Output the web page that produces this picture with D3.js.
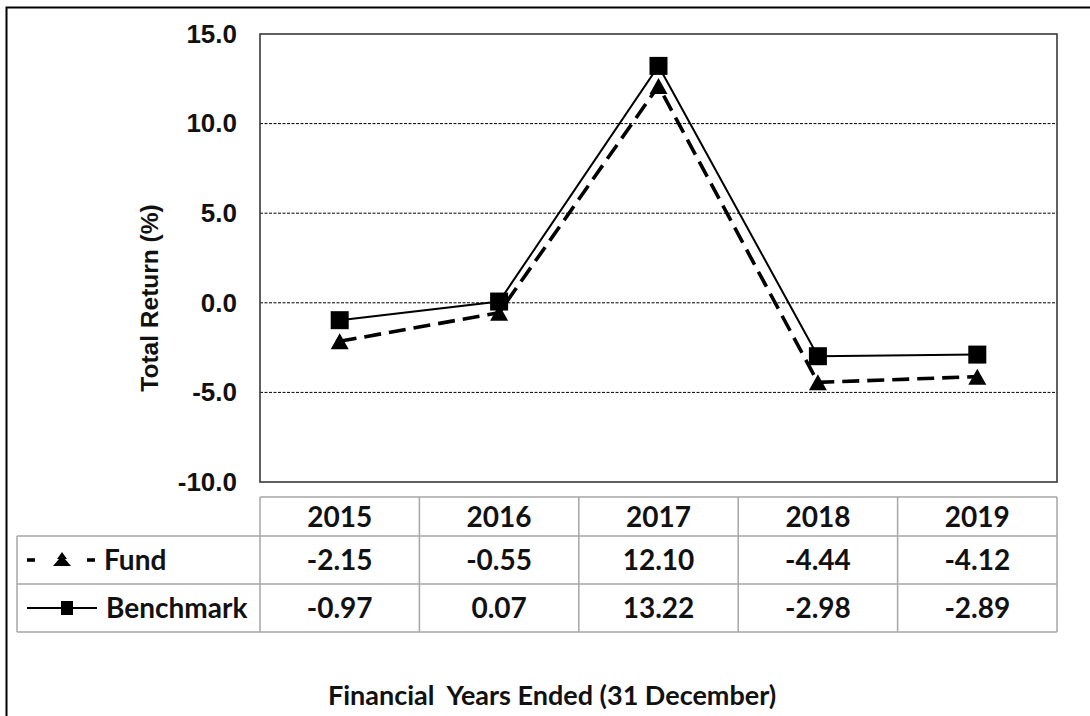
<!DOCTYPE html>
<html>
<head>
<meta charset="utf-8">
<script src="https://cdn.jsdelivr.net/npm/d3@7"></script>
<style>
html,body{margin:0;padding:0;background:#fff;}
svg{display:block;}
</style>
</head>
<body>
<svg id="chart" width="1090" height="716"></svg>
<script>
const years = ["2015","2016","2017","2018","2019"];
const fund = [-2.15, -0.55, 12.10, -4.44, -4.12];
const benchmark = [-0.97, 0.07, 13.22, -2.98, -2.89];
const yTicks = [-10, -5, 0, 5, 10, 15];
const gridTicks = [-5, 0, 5, 10];
const seriesNames = ["Fund", "Benchmark"];
const xTitle = "Financial\u00a0 Years Ended (31 December)";
const yTitle = "Total Return (%)";

const hy = f => (d => f(d).replace("\u2212", "-"));
const f1 = hy(d3.format(".1f")), f2 = hy(d3.format(".2f"));

const svg = d3.select("#chart");
const L = 260, R = 1057, T = 34, B = 482;
const x = d3.scaleBand().domain(years).range([L, R]);
const y = d3.scaleLinear().domain([-10, 15]).range([B, T]);
const cx = d => x(d) + x.bandwidth() / 2;

// outer frame
svg.append("rect").attr("x", 6.5).attr("y", 7.5).attr("width", 1200).attr("height", 800)
  .attr("fill", "none").attr("stroke", "#000").attr("stroke-width", 2);

// gridlines
svg.append("g").selectAll("line").data(gridTicks).join("line")
  .attr("x1", L).attr("x2", R).attr("y1", d => y(d)).attr("y2", d => y(d))
  .attr("stroke", "#000").attr("stroke-width", 1).attr("stroke-dasharray", "3,1.5");

// plot border
svg.append("rect").attr("x", L).attr("y", T).attr("width", R - L).attr("height", B - T)
  .attr("fill", "none").attr("stroke", "#3a3a3a").attr("stroke-width", 1.6);

// y axis labels
const yAxis = d3.axisLeft(y).tickValues(yTicks).tickFormat(f1).tickSize(0).tickPadding(23);
const yg = svg.append("g").attr("transform", `translate(${L},0)`).call(yAxis);
yg.select(".domain").remove();
yg.selectAll("text").attr("font-family", "'Liberation Sans', Arial, sans-serif")
  .attr("font-weight", "bold").attr("font-size", 26).attr("fill", "#111");

// y title
svg.append("text").attr("transform", `translate(158,298) rotate(-90)`)
  .attr("text-anchor", "middle")
  .attr("font-family", "'Liberation Sans', Arial, sans-serif").attr("font-weight", "bold")
  .attr("font-size", 24.5).attr("fill", "#111").text(yTitle);

// lines
const lineGen = d3.line().x((d, i) => cx(years[i])).y(d => y(d));
svg.append("path").datum(fund).attr("d", lineGen).attr("fill", "none")
  .attr("stroke", "#000").attr("stroke-width", 3.6).attr("stroke-dasharray", "17,8");
svg.append("path").datum(benchmark).attr("d", lineGen).attr("fill", "none")
  .attr("stroke", "#000").attr("stroke-width", 2);

// markers
const tri = (px, py, w, h) => `M${px},${py - h / 2}L${px + w / 2},${py + h / 2}L${px - w / 2},${py + h / 2}Z`;
svg.append("g").selectAll("path").data(fund).join("path")
  .attr("d", (d, i) => tri(cx(years[i]), y(d), 18, 16)).attr("fill", "#000");
svg.append("g").selectAll("rect").data(benchmark).join("rect")
  .attr("x", (d, i) => cx(years[i]) - 9).attr("y", d => y(d) - 9)
  .attr("width", 18).attr("height", 18).attr("fill", "#000");

// table
const tFont = "Lato, 'Open Sans', sans-serif";
const rowY = [497, 536, 584, 632];
const tableLeft = 17;
const grid = svg.append("g").attr("stroke", "#a6a6a6").attr("stroke-width", 1.5).attr("fill", "none");
grid.append("line").attr("x1", L).attr("x2", R).attr("y1", rowY[0]).attr("y2", rowY[0]);
[1, 2, 3].forEach(k => grid.append("line").attr("x1", tableLeft).attr("x2", R).attr("y1", rowY[k]).attr("y2", rowY[k]));
grid.append("line").attr("x1", tableLeft).attr("x2", tableLeft).attr("y1", rowY[1]).attr("y2", rowY[3]);
const colEdges = years.map(d => x(d)).concat([R]);
grid.selectAll("line.v").data(colEdges).join("line").attr("class", "v")
  .attr("x1", d => d).attr("x2", d => d).attr("y1", rowY[0]).attr("y2", rowY[3]);

const cellText = (g, data, yc) => g.selectAll("text").data(data).join("text")
  .attr("x", (d, i) => cx(years[i])).attr("y", yc + 10)
  .attr("text-anchor", "middle").attr("font-family", tFont).attr("font-weight", "bold")
  .attr("font-size", 28).attr("fill", "#111").text(d => d);

cellText(svg.append("g"), years, (rowY[0] + rowY[1]) / 2);
cellText(svg.append("g"), fund.map(f2), (rowY[1] + rowY[2]) / 2);
cellText(svg.append("g"), benchmark.map(f2), (rowY[2] + rowY[3]) / 2);

// legend in table
const fy = (rowY[1] + rowY[2]) / 2, by = (rowY[2] + rowY[3]) / 2;
const lg = svg.append("g");
lg.append("line").attr("x1", 27).attr("x2", 35).attr("y1", fy).attr("y2", fy).attr("stroke", "#000").attr("stroke-width", 3.6);
lg.append("line").attr("x1", 87).attr("x2", 95).attr("y1", fy).attr("y2", fy).attr("stroke", "#000").attr("stroke-width", 3.6);
lg.append("path").attr("d", `M62,${fy - 8}L67,${fy - 1}L65,${fy - 1}L71,${fy + 6}L53,${fy + 6}L59,${fy - 1}L57,${fy - 1}Z`).attr("fill", "#000");
lg.append("line").attr("x1", 27).attr("x2", 97).attr("y1", by).attr("y2", by).attr("stroke", "#000").attr("stroke-width", 2);
lg.append("rect").attr("x", 61).attr("y", by - 7).attr("width", 12).attr("height", 14).attr("fill", "#000");
lg.append("text").attr("x", 104).attr("y", fy + 10).attr("font-family", tFont).attr("font-weight", "bold")
  .attr("font-size", 28).attr("fill", "#111").text(seriesNames[0]);
lg.append("text").attr("x", 106).attr("y", by + 10).attr("font-family", tFont).attr("font-weight", "bold")
  .attr("font-size", 28).attr("fill", "#111").text(seriesNames[1]);

// x title
svg.append("text").attr("x", 552).attr("y", 705).attr("text-anchor", "middle")
  .attr("font-family", tFont).attr("font-weight", "bold").attr("font-size", 27)
  .attr("fill", "#111").text(xTitle);
</script>
</body>
</html>
